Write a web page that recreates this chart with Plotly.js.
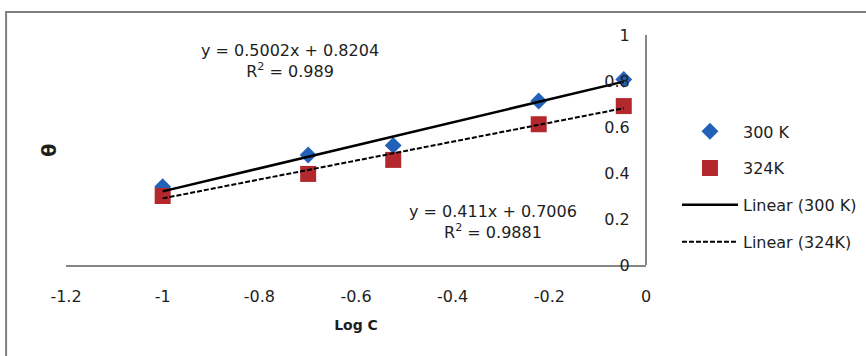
<!DOCTYPE html>
<html>
<head>
<meta charset="utf-8">
<script src="https://cdn.plot.ly/plotly-3.0.1.min.js"></script>
<style>html,body{margin:0;padding:0;background:#fff;}#chart{width:866px;height:356px;}</style>
</head>
<body>
<div id="chart"></div>
<script>
// Data
var logC = [-1, -0.699, -0.523, -0.222, -0.046];
var theta300 = [0.34, 0.478, 0.52, 0.713, 0.807];
var theta324 = [0.30, 0.396, 0.457, 0.612, 0.691];
var seriesNames = ["300 K", "324K"];
var fitNames = ["Linear (300 K)", "Linear (324K)"];
var slopes = [0.5002, 0.411];
var intercepts = [0.8204, 0.7006];
var r2 = ["0.989", "0.9881"];
var xTicks = [-1.2, -1, -0.8, -0.6, -0.4, -0.2, 0];
var yTicks = [0, 0.2, 0.4, 0.6, 0.8, 1];

var FONT = "DejaVu Sans, sans-serif";
var TXT = "#1e1e1e";
var xMin = Math.min.apply(null, logC), xMax = Math.max.apply(null, logC);
function fitLine(i) {
  return [xMin, xMax].map(function (x) { return slopes[i] * x + intercepts[i]; });
}

var traces = [
  {x: logC, y: theta300, name: seriesNames[0], mode: "markers", type: "scatter", legendgroup: "a",
   marker: {symbol: "diamond", size: 13, color: "#2361B9"}},
  {x: logC, y: theta324, name: seriesNames[1], mode: "markers", type: "scatter", legendgroup: "b",
   marker: {symbol: "square", size: 16, color: "#B3282D"}},
  {x: [xMin, xMax], y: fitLine(0), name: fitNames[0], mode: "lines", type: "scatter", legendgroup: "c",
   line: {color: "#000", width: 2.5}},
  {x: [xMin, xMax], y: fitLine(1), name: fitNames[1], mode: "lines", type: "scatter", legendgroup: "d",
   line: {color: "#000", width: 2, dash: "5px,2px"}}
];

var layout = {
  width: 866, height: 356,
  margin: {l: 66, r: 220, t: 35, b: 91, autoexpand: false},
  paper_bgcolor: "#fff", plot_bgcolor: "#fff",
  font: {family: FONT, size: 16, color: TXT},
  showlegend: true,
  legend: {x: 1.0534, xanchor: "left", y: 0.655, yanchor: "top", traceorder: "grouped",
           tracegroupgap: 13, itemwidth: 56, font: {family: FONT, size: 16, color: TXT},
           bgcolor: "rgba(0,0,0,0)"},
  xaxis: {range: [-1.2, 0], tickvals: xTicks, ticktext: xTicks.map(String),
          showgrid: false, zeroline: false, showline: true, linecolor: "#868686", linewidth: 2,
          ticks: "outside", ticklen: 16, tickcolor: "rgba(0,0,0,0)",
          tickfont: {family: FONT, size: 16, color: TXT},
          title: {text: "<b>Log C</b>", font: {family: FONT, size: 14, color: TXT}, standoff: 15},
          fixedrange: true},
  yaxis: {range: [0, 1], tickvals: yTicks, ticktext: yTicks.map(String),
          anchor: "free", position: 1, side: "left",
          showgrid: false, zeroline: false, showline: true, linecolor: "#868686", linewidth: 2,
          ticks: "outside", ticklen: 12, tickcolor: "rgba(0,0,0,0)",
          tickfont: {family: FONT, size: 16, color: TXT}, fixedrange: true},
  annotations: [
    {xref: "paper", yref: "paper", x: -0.052, y: 0.5, text: "<b>θ</b>", textangle: -90, showarrow: false,
     font: {family: FONT, size: 19, color: TXT}},
    {xref: "x", yref: "y", x: -0.737, y: 0.889, showarrow: false, align: "center",
     text: "y = " + slopes[0] + "x + " + intercepts[0] + "<br>R<sup>2</sup> = " + r2[0],
     font: {family: FONT, size: 16, color: TXT}},
    {xref: "x", yref: "y", x: -0.316, y: 0.189, showarrow: false, align: "center",
     text: "y = " + slopes[1] + "x + " + intercepts[1] + "<br>R<sup>2</sup> = " + r2[1],
     font: {family: FONT, size: 16, color: TXT}}
  ],
  shapes: [
    {type: "rect", xref: "paper", yref: "paper", x0: -0.1033, x1: 1.4, y0: 1.1, y1: -0.45,
     line: {color: "#7F7F7F", width: 2}, fillcolor: "rgba(0,0,0,0)", layer: "below"}
  ]
};

Plotly.newPlot("chart", traces, layout, {displayModeBar: false, staticPlot: true});
</script>
</body>
</html>
